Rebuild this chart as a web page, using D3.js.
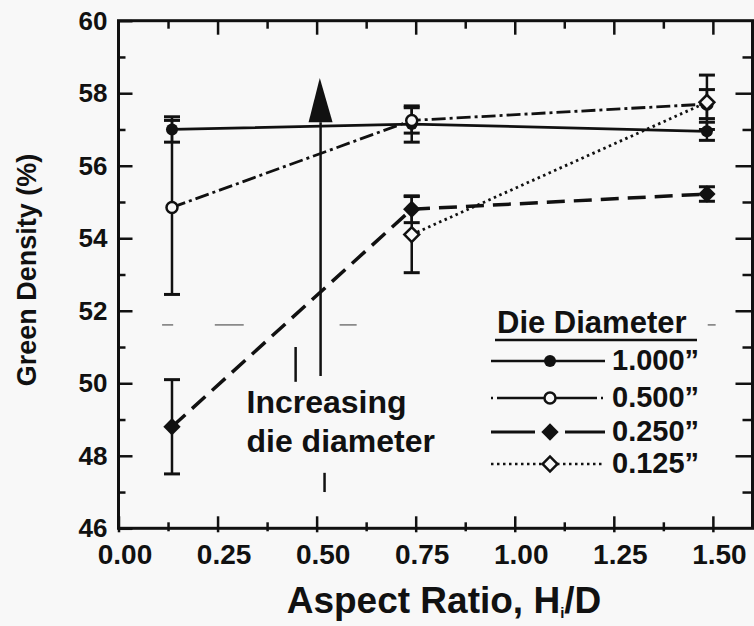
<!DOCTYPE html>
<html>
<head>
<meta charset="utf-8">
<script src="https://cdn.jsdelivr.net/npm/d3@7"></script>
<style>
  body { margin: 0; background: #f8f8f8; }
  text { font-family: "Liberation Sans", Arial, sans-serif; font-weight: bold; fill: #111; }
</style>
</head>
<body>
<div id="chart"></div>
<script>
// aspect ratio positions and green density values per die diameter
var aspect = [0.135, 0.74, 1.485];
var dieNames = ["1.000\u201d", "0.500\u201d", "0.250\u201d", "0.125\u201d"];
var dens1000 = [57.0, 57.15, 56.95];
var err1000 = [0.35, 0.5, 0.25];
var dens0500 = [54.85, 57.25, 57.7];
var err0500 = [2.4, 0.35, 0.4];
var dens0250 = [48.8, 54.8, 55.22];
var err0250 = [1.3, 0.37, 0.2];
var dens0125 = [null, 54.1, 57.75];
var err0125 = [null, 1.05, 0.75];

var xTicks = [0, 0.25, 0.5, 0.75, 1.0, 1.25, 1.5];
var xMinor = [0.125, 0.375, 0.625, 0.875, 1.125, 1.375];
var yTicks = [46, 48, 50, 52, 54, 56, 58, 60];
var yMinor = [47, 49, 51, 53, 55, 57, 59];

// annotation: arrow and scan fragments
var arrowX = 0.51, arrowTip = 58.42, arrowBase = 57.2, arrowEnd = 50.2;
var arrowBits = [
  { x: 0.447, y1: 51.0, y2: 50.04 },
  { x: 0.52, y1: 47.53, y2: 47.0 }
];
var scanDashes = [[0.11, 0.138], [0.243, 0.316], [0.558, 0.601], [1.487, 1.507]];
var scanDashY = 51.61;
var noteLines = ["Increasing", "die diameter"];
var noteX = 0.323, noteY = [49.17, 48.11];

var W = 754, H = 626;
var x = d3.scaleLinear().domain([0, 1.6]).range([118.5, 752.5]);
var y = d3.scaleLinear().domain([46, 60]).range([528.3, 20.7]);

var svg = d3.select("#chart").append("svg")
  .attr("width", W).attr("height", H)
  .style("background", "#f8f8f8");

var ink = "#111";

// frame
svg.append("rect")
  .attr("x", x(0)).attr("y", y(60))
  .attr("width", x(1.6) - x(0)).attr("height", y(46) - y(60))
  .attr("fill", "none").attr("stroke", ink).attr("stroke-width", 3);

function axisStyle(g) {
  g.select(".domain").remove();
  g.selectAll(".tick line").attr("stroke", ink).attr("stroke-width", 2.5);
}

// bottom axis with labels (inward ticks)
var gx = svg.append("g").attr("transform", "translate(0," + y(46) + ")")
  .call(d3.axisBottom(x).tickValues(xTicks).tickSize(-12).tickFormat(d3.format(".2f")))
  .call(axisStyle);
gx.selectAll("text")
  .attr("y", 36).attr("dy", 0).attr("dx", 6)
  .style("font-size", "28px");
svg.append("g").attr("transform", "translate(0," + y(46) + ")")
  .call(d3.axisBottom(x).tickValues(xTicks).tickSize(4).tickFormat(""))
  .call(axisStyle);
svg.append("g").attr("transform", "translate(0," + y(46) + ")")
  .call(d3.axisBottom(x).tickValues(xMinor).tickSize(-6).tickFormat(""))
  .call(axisStyle);
svg.append("g").attr("transform", "translate(0," + y(46) + ")")
  .call(d3.axisBottom(x).tickValues(xMinor).tickSize(3).tickFormat(""))
  .call(axisStyle);

// top axis
svg.append("g").attr("transform", "translate(0," + y(60) + ")")
  .call(d3.axisTop(x).tickValues(xTicks.slice(1)).tickSize(-14).tickFormat(""))
  .call(axisStyle);
svg.append("g").attr("transform", "translate(0," + y(60) + ")")
  .call(d3.axisTop(x).tickValues(xMinor).tickSize(-8).tickFormat(""))
  .call(axisStyle);

// left axis with labels
var gy = svg.append("g").attr("transform", "translate(" + x(0) + ",0)")
  .call(d3.axisLeft(y).tickValues(yTicks).tickSize(-14).tickPadding(11).tickFormat(d3.format("d")))
  .call(axisStyle);
gy.selectAll("text").style("font-size", "26px");
svg.append("g").attr("transform", "translate(" + x(0) + ",0)")
  .call(d3.axisLeft(y).tickValues(yMinor).tickSize(-7).tickFormat(""))
  .call(axisStyle);

// right axis
svg.append("g").attr("transform", "translate(" + x(1.6) + ",0)")
  .call(d3.axisRight(y).tickValues(yTicks.slice(1, -1)).tickSize(-17).tickFormat(""))
  .call(axisStyle);
svg.append("g").attr("transform", "translate(" + x(1.6) + ",0)")
  .call(d3.axisRight(y).tickValues(yMinor).tickSize(-10).tickFormat(""))
  .call(axisStyle);

// axis titles
svg.append("text")
  .attr("transform", "translate(36,270) rotate(-90)")
  .attr("text-anchor", "middle")
  .style("font-size", "27px")
  .text("Green Density (%)");

var xt = svg.append("text")
  .attr("x", 444).attr("y", 613)
  .attr("text-anchor", "middle")
  .style("font-size", "37px");
xt.append("tspan").text("Aspect Ratio, H");
xt.append("tspan").attr("dy", 5).style("font-size", "15px").text("i");
xt.append("tspan").attr("dy", -5).text("/D");

// scan fragments
svg.append("g").selectAll("line").data(scanDashes).enter().append("line")
  .attr("x1", function (d) { return x(d[0]); })
  .attr("x2", function (d) { return x(d[1]); })
  .attr("y1", y(scanDashY)).attr("y2", y(scanDashY))
  .attr("stroke", "#777").attr("stroke-width", 1.5);

// arrow
svg.append("path")
  .attr("d", "M" + x(arrowX - 0.002) + "," + y(arrowTip) +
    "L" + (x(arrowX) - 12) + "," + y(arrowBase) +
    "L" + (x(arrowX) + 12) + "," + y(arrowBase) + "Z")
  .attr("fill", ink);
svg.append("line")
  .attr("x1", x(arrowX)).attr("x2", x(arrowX))
  .attr("y1", y(arrowBase)).attr("y2", y(arrowEnd))
  .attr("stroke", ink).attr("stroke-width", 2.5);
svg.append("g").selectAll("line").data(arrowBits).enter().append("line")
  .attr("x1", function (d) { return x(d.x); })
  .attr("x2", function (d) { return x(d.x); })
  .attr("y1", function (d) { return y(d.y1); })
  .attr("y2", function (d) { return y(d.y2); })
  .attr("stroke", ink).attr("stroke-width", 2.5);

svg.append("g").selectAll("text").data(noteLines).enter().append("text")
  .attr("x", x(noteX))
  .attr("y", function (d, i) { return y(noteY[i]); })
  .style("font-size", "32px")
  .text(function (d) { return d; });

// series
var series = [
  { name: dieNames[0], vals: dens1000, errs: err1000, dash: null, width: 2.8, mark: "circle", fill: true, legDash: null },
  { name: dieNames[1], vals: dens0500, errs: err0500, dash: "14,4,3,4", width: 2.8, mark: "circle", fill: false, legDash: "2,4,100,4,2" },
  { name: dieNames[2], vals: dens0250, errs: err0250, dash: "18,9", width: 3.5, mark: "diamond", fill: true, legDash: "44,30,46" },
  { name: dieNames[3], vals: dens0125, errs: err0125, dash: "2.5,3.5", width: 2.8, mark: "diamond", fill: false, legDash: "2.5,3.5" }
];

var line = d3.line()
  .defined(function (d) { return d.v != null; })
  .x(function (d) { return x(d.a); })
  .y(function (d) { return y(d.v); });

function pts(s) {
  return aspect.map(function (a, i) { return { a: a, v: s.vals[i], e: s.errs[i] }; });
}

series.forEach(function (s) {
  svg.append("path")
    .datum(pts(s))
    .attr("d", line)
    .attr("fill", "none")
    .attr("stroke", ink)
    .attr("stroke-width", s.width)
    .attr("stroke-dasharray", s.dash);
});

// error bars
series.forEach(function (s) {
  var g = svg.append("g").selectAll("g")
    .data(pts(s).filter(function (d) { return d.v != null; }))
    .enter().append("g")
    .attr("stroke", ink);
  g.append("line")
    .attr("x1", function (d) { return x(d.a); })
    .attr("x2", function (d) { return x(d.a); })
    .attr("y1", function (d) { return y(d.v - d.e); })
    .attr("y2", function (d) { return y(d.v + d.e); })
    .attr("stroke-width", 2.5);
  [-1, 1].forEach(function (k) {
    g.append("line")
      .attr("x1", function (d) { return x(d.a) - 8; })
      .attr("x2", function (d) { return x(d.a) + 8; })
      .attr("y1", function (d) { return y(d.v + k * d.e); })
      .attr("y2", function (d) { return y(d.v + k * d.e); })
      .attr("stroke-width", 3);
  });
});

function marker(sel, s) {
  if (s.mark === "circle") {
    sel.append("circle")
      .attr("r", s.fill ? 6 : 5.5)
      .attr("fill", s.fill ? ink : "#f8f8f8")
      .attr("stroke", ink).attr("stroke-width", s.fill ? 0 : 2.5);
  } else {
    sel.append("path")
      .attr("d", d3.symbol(d3.symbolSquare, s.fill ? 150 : 110)())
      .attr("transform", "rotate(45)")
      .attr("fill", s.fill ? ink : "#f8f8f8")
      .attr("stroke", ink).attr("stroke-width", s.fill ? 0 : 2.5);
  }
}

series.forEach(function (s) {
  svg.append("g").selectAll("g")
    .data(pts(s).filter(function (d) { return d.v != null; }))
    .enter().append("g")
    .attr("transform", function (d) { return "translate(" + x(d.a) + "," + y(d.v) + ")"; })
    .each(function () { marker(d3.select(this), s); });
});

// legend
var leg = svg.append("g");
leg.append("text")
  .attr("x", 497).attr("y", 333)
  .style("font-size", "31px")
  .text("Die Diameter");
leg.append("line")
  .attr("x1", 495).attr("x2", 697).attr("y1", 340).attr("y2", 340)
  .attr("stroke", ink).attr("stroke-width", 2.5);

var legY = [361, 398, 432, 464];
series.forEach(function (s, i) {
  var row = leg.append("g").attr("transform", "translate(0," + legY[i] + ")");
  row.append("line")
    .attr("x1", 491).attr("x2", 605)
    .attr("y1", 0).attr("y2", 0)
    .attr("stroke", ink).attr("stroke-width", s.width === 3.5 ? 3 : 2.5)
    .attr("stroke-dasharray", s.legDash);
  marker(row.append("g").attr("transform", "translate(550,0)"), s);
  row.append("text")
    .attr("x", 612).attr("y", 9)
    .style("font-size", "29px")
    .text(s.name);
});
</script>
</body>
</html>
